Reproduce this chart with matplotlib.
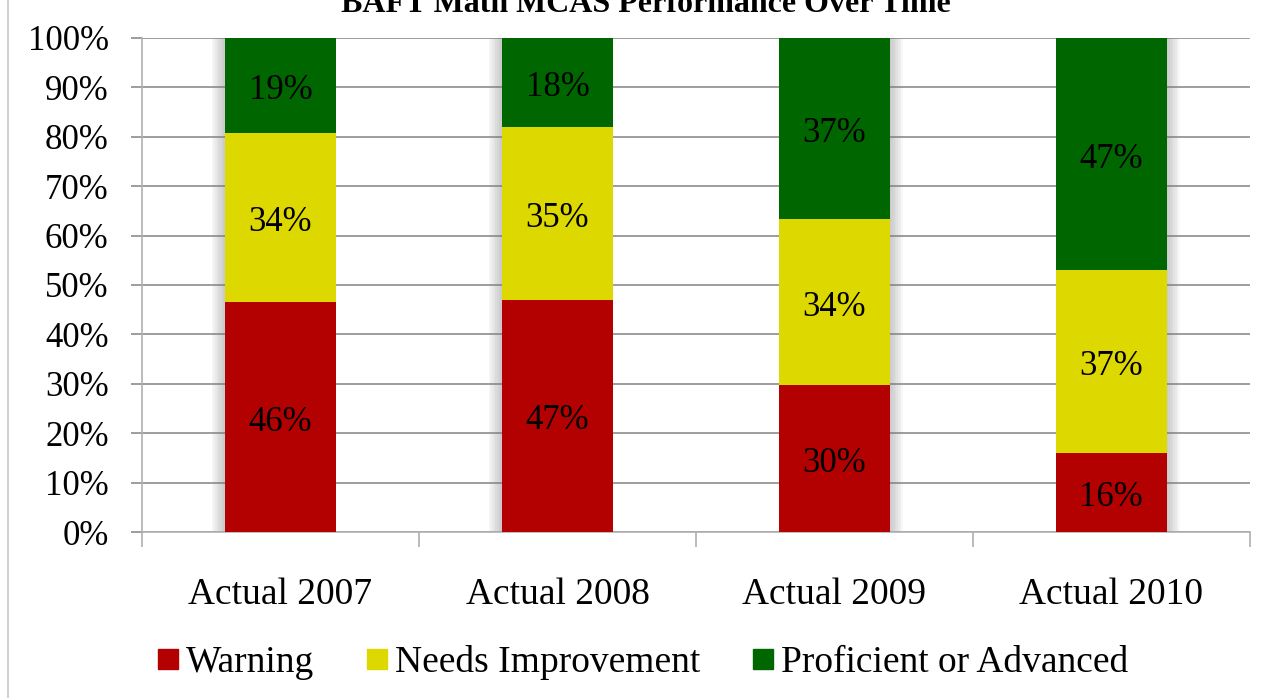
import numpy as np
import matplotlib.pyplot as plt
from matplotlib.lines import Line2D

plt.rcParams['font.family'] = ['Liberation Serif', 'DejaVu Serif']

# Data
years = ['Actual 2007', 'Actual 2008', 'Actual 2009', 'Actual 2010']
warning = np.array([46, 47, 30, 16])
needs_improvement = np.array([34, 35, 34, 37])
proficient = np.array([19, 18, 37, 47])

series_names = ['Warning', 'Needs Improvement', 'Proficient or Advanced']
colors = ['#B30000', '#DDD800', '#006600']

# 100% stacked: normalize each column
raw = np.vstack([warning, needs_improvement, proficient]).astype(float)
share = raw / raw.sum(axis=0) * 100

fig = plt.figure(figsize=(12.66, 6.98), dpi=100)
ax = fig.add_axes([0.1122, 0.2378, 0.875, 0.7078])

x = np.arange(len(years))
width = 0.4
bottom = np.zeros(len(years))
for i in range(3):
    ax.bar(x, share[i], width, bottom=bottom, color=colors[i],
           label=series_names[i], zorder=3)
    for xi, b, h, v in zip(x, bottom, share[i], raw[i]):
        ax.text(xi, b + h / 2 - 1.0, f'{int(v)}%', ha='center', va='center',
                fontsize=25, color='black', zorder=4)
    bottom += share[i]

# soft shadow beside the bars (left for the first two, right for the rest)
for xi in x:
    side = -1 if xi < 2 else 1
    for k in range(8):
        off = (k + 1) * 0.006
        ax.bar(xi + side * off, 100, width, color='#808080',
               alpha=0.06, zorder=2, linewidth=0)

ax.set_xlim(-0.5, 3.5)
ax.set_ylim(0, 100)
ax.set_yticks(np.arange(0, 101, 10))
ax.set_yticklabels([f'{v}%' for v in range(0, 101, 10)], fontsize=25)
ax.yaxis.grid(True, color='#8c8c8c', linewidth=1.2, zorder=0)
ax.set_axisbelow(True)

ax.set_xticks(x)
ax.set_xticklabels(years, fontsize=27)
ax.tick_params(axis='x', length=0, pad=33)
ax.tick_params(axis='y', length=8, color='#8c8c8c', width=1.2, pad=16)

# category boundary ticks
ax.set_xticks(np.arange(-0.5, 3.6, 1), minor=True)
ax.tick_params(axis='x', which='minor', length=11, color='#b0b0b0', width=1.2)

for s in ['top', 'right']:
    ax.spines[s].set_visible(False)
ax.spines['left'].set_color('#b0b0b0')
ax.spines['bottom'].set_color('#b0b0b0')
ax.spines['left'].set_linewidth(1.2)
ax.spines['bottom'].set_linewidth(1.2)

# title (partly cut off at the top edge, as in the source)
fig.text(0.51, 1 - 12 / 698, 'BAFT Math MCAS Performance Over Time',
         ha='center', va='baseline', fontsize=23, fontweight='bold')

# legend
handles = [Line2D([0], [0], marker='s', linestyle='none', markersize=14,
                  markerfacecolor=c, markeredgecolor=c) for c in colors]
fig.legend(handles, series_names, loc='center', bbox_to_anchor=(0.508, 1 - 663 / 698),
           ncol=3, frameon=False, fontsize=27, handletextpad=0.2,
           columnspacing=1.4, handlelength=0.55)

# slide border on the left
fig.add_artist(Line2D([8 / 1266, 8 / 1266], [0, 1], color='#c8c8c8', linewidth=1.2))

fig.savefig('out.png', dpi=100)
